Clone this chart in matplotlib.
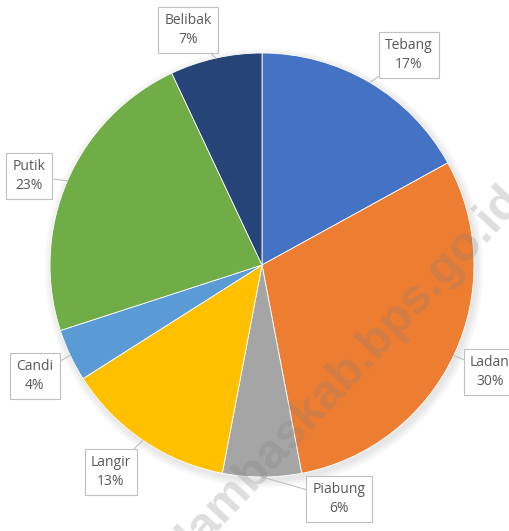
import numpy as np
import matplotlib.pyplot as plt

labels = ['Tebang', 'Ladan', 'Piabung', 'Langir', 'Candi', 'Putik', 'Belibak']
shares = [17, 30, 6, 13, 4, 23, 7]
colors = ['#4472C4', '#ED7D31', '#A5A5A5', '#FFC000', '#5B9BD5', '#70AD47', '#264478']

# label box centres (pixel coords, y from top)
box_pos = [(409, 55), (490, 372), (339, 499), (111, 472), (35, 376), (29, 176), (188, 30)]

W, H = 510, 531
cx, cy, r = 262, H - 265, 212

fig = plt.figure(figsize=(W / 100, H / 100), dpi=100)
ax = fig.add_axes([0, 0, 1, 1])

# soft shadow
for k in range(8):
    ax.add_patch(plt.Circle((cx + 2, cy - 3), r + 8 - k, color='#000000', alpha=0.012, lw=0))

wedges, _ = ax.pie(shares, colors=colors, startangle=90, counterclock=False,
                   center=(cx, cy), radius=r, frame=True,
                   wedgeprops=dict(linewidth=0.6, edgecolor='white'))
ax.set_xlim(0, W)
ax.set_ylim(0, H)
ax.axis('off')

for w, lab, val, (bx, by) in zip(wedges, labels, shares, box_pos):
    ang = np.deg2rad((w.theta1 + w.theta2) / 2)
    ex = cx + r * np.cos(ang)
    ey = cy + r * np.sin(ang)
    ax.annotate(f'{lab}\n{val}%', xy=(ex, ey), xytext=(bx, H - by),
                ha='center', va='center', fontsize=10, color='#595959',
                family='Open Sans', linespacing=1.3,
                bbox=dict(boxstyle='square,pad=0.45', fc='white', ec='#BFBFBF', lw=0.8),
                arrowprops=dict(arrowstyle='-', color='#BFBFBF', lw=0.8,
                                shrinkA=0, shrinkB=0))

# watermark
ax.text(350, H - 368, 'lambaskab.bps.go.id', rotation=47, ha='center', va='center',
        fontsize=35, fontweight='bold', family='Liberation Sans',
        color='#808080', alpha=0.26, zorder=10)

fig.savefig('out.png', dpi=100)
